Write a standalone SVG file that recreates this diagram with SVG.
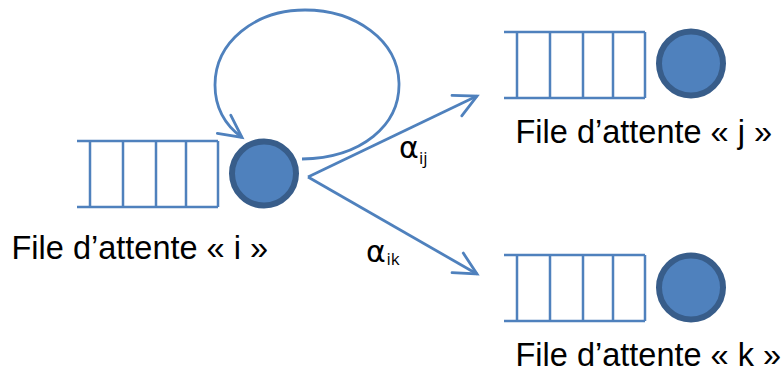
<svg xmlns="http://www.w3.org/2000/svg" xmlns:xlink="http://www.w3.org/1999/xlink" width="783" height="372" viewBox="0 0 783 372">
<style>
.q{fill:none;stroke:#4F81BD;stroke-width:2.5}
.srv{fill:#4F81BD;stroke:#385D8A;stroke-width:6}
.lbl{font-family:"Liberation Sans",Arial,sans-serif;font-size:32.5px;fill:#000}
.conn{fill:none;stroke:#4F81BD;stroke-width:2.8}
.al{font-family:"DejaVu Sans","Open Sans",sans-serif;font-size:30px;fill:#000}
.sub{font-family:"Open Sans","Liberation Sans",sans-serif;font-size:17px}
</style>
<defs>
<path id="queue" class="q" d="M0,0 H141 M0,66 H141 M13,0 V66 M46,0 V66 M79,0 V66 M109,0 V66 M141,0 V66"/>
<marker id="arr" markerUnits="userSpaceOnUse" markerWidth="40" markerHeight="40" refX="0" refY="0" viewBox="-30 -20 40 40" orient="auto" overflow="visible">
<path d="M-22.3,-11.3 L0,0 L-22.3,11.3" fill="none" stroke="#4F81BD" stroke-width="2.8" stroke-linecap="round" stroke-linejoin="miter"/>
</marker>
</defs>
<g id="connectors">
<path class="conn" d="M302,159 C362,158 400,125 399,83 C398,40 355,10 305,10 C255,10 215,42 215,85 C215,108 225,125 242,137.5" marker-end="url(#arr)"/>
<path class="conn" d="M308,177 L477,96" marker-end="url(#arr)"/>
<path class="conn" d="M308,177 L477,274" marker-end="url(#arr)"/>
<text class="al" x="399" y="158">α<tspan class="sub" x="419" y="164">ij</tspan></text>
<text class="al" x="366" y="261.5">α<tspan class="sub" x="386.5" y="264.5">ik</tspan></text>
</g>
<g id="node_i">
<use xlink:href="#queue" x="77" y="141"/>
<circle class="srv" cx="264" cy="173.5" r="32"/>
<text class="lbl" x="11.5" y="259">File d’attente « i »</text>
</g>
<g id="node_j">
<use xlink:href="#queue" x="504" y="32"/>
<circle class="srv" cx="691" cy="63.5" r="32"/>
<text class="lbl" x="515.5" y="143">File d’attente « j »</text>
</g>
<g id="node_k">
<use xlink:href="#queue" x="504" y="255"/>
<circle class="srv" cx="691" cy="287.5" r="32"/>
<text class="lbl" x="515.5" y="366">File d’attente « k »</text>
</g>
</svg>
